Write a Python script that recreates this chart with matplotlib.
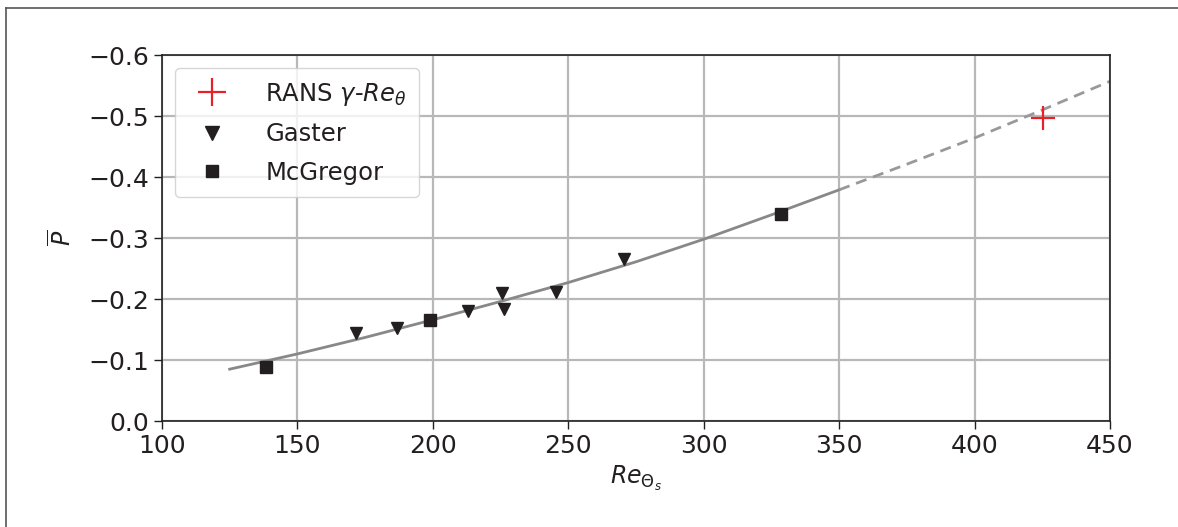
import numpy as np
import matplotlib.pyplot as plt
from matplotlib.lines import Line2D

# data
gaster_re = [171.6, 186.6, 213.1, 225.4, 226.4, 245.4, 270.7]
gaster_p = [-0.145, -0.152, -0.180, -0.210, -0.183, -0.212, -0.266]

mcgregor_re = [138.4, 198.9, 328.4]
mcgregor_p = [-0.088, -0.166, -0.339]

rans_re = [425.2]
rans_p = [-0.497]

fit_re = [125, 150, 175, 200, 225, 250, 275, 300, 325, 350]
fit_p = [-0.085, -0.110, -0.137, -0.166, -0.196, -0.227, -0.261, -0.298, -0.338, -0.379]

extrap_re = [350, 375, 400, 425, 450]
extrap_p = [-0.379, -0.421, -0.464, -0.510, -0.557]

fig = plt.figure(figsize=(11.78, 5.27), dpi=100)
ax = fig.add_axes([0.1375, 0.2011, 0.8048, 0.6945])

ax.plot(fit_re, fit_p, color='#888888', lw=2.0, zorder=2)
ax.plot(extrap_re, extrap_p, color='#999999', lw=2.0, ls=(0, (4, 2.5)), zorder=2)

ax.plot(rans_re, rans_p, ls='none', marker='+', ms=17, mew=1.6,
        color='#e8202a', label=r'RANS $\gamma$-$Re_\theta$', zorder=3)
ax.plot(gaster_re, gaster_p, ls='none', marker='v', ms=9,
        color='#231f20', label='Gaster', zorder=3)
ax.plot(mcgregor_re, mcgregor_p, ls='none', marker='s', ms=8,
        color='#231f20', label='McGregor', zorder=3)

ax.set_xlim(100, 450)
ax.set_ylim(0.0, -0.6)
ax.set_xticks(np.arange(100, 451, 50))
ax.set_yticks(np.arange(0.0, -0.61, -0.1))
ax.set_yticklabels(['0.0', '\u22120.1', '\u22120.2', '\u22120.3', '\u22120.4', '\u22120.5', '\u22120.6'])
ax.tick_params(labelsize=18, length=6, width=1.0, colors='#231f20')
ax.grid(True, color='#b8b8b8', lw=1.6)
ax.set_axisbelow(True)
for s in ax.spines.values():
    s.set_color('#231f20')
    s.set_linewidth(1.2)

ax.set_xlabel(r'$Re_{\Theta_s}$', fontsize=17, color='#231f20')
ax.set_ylabel(r'$\overline{P}$', fontsize=17, color='#231f20', labelpad=8)

leg = ax.legend(loc='upper left', fontsize=17.5, borderpad=0.5, handletextpad=1.2,
                labelspacing=0.6, borderaxespad=0.55, framealpha=0.8, markerscale=1.15)
leg.get_frame().set_edgecolor('#cccccc')
for t in leg.get_texts():
    t.set_color('#231f20')

# page border seen at top and left
fig.add_artist(Line2D([0.0055, 0.0055], [0.0, 0.985], transform=fig.transFigure,
                      color='#555555', lw=1.2))
fig.add_artist(Line2D([0.0055, 1.0], [0.985, 0.985], transform=fig.transFigure,
                      color='#555555', lw=1.2))

fig.savefig('out.png', dpi=100)
